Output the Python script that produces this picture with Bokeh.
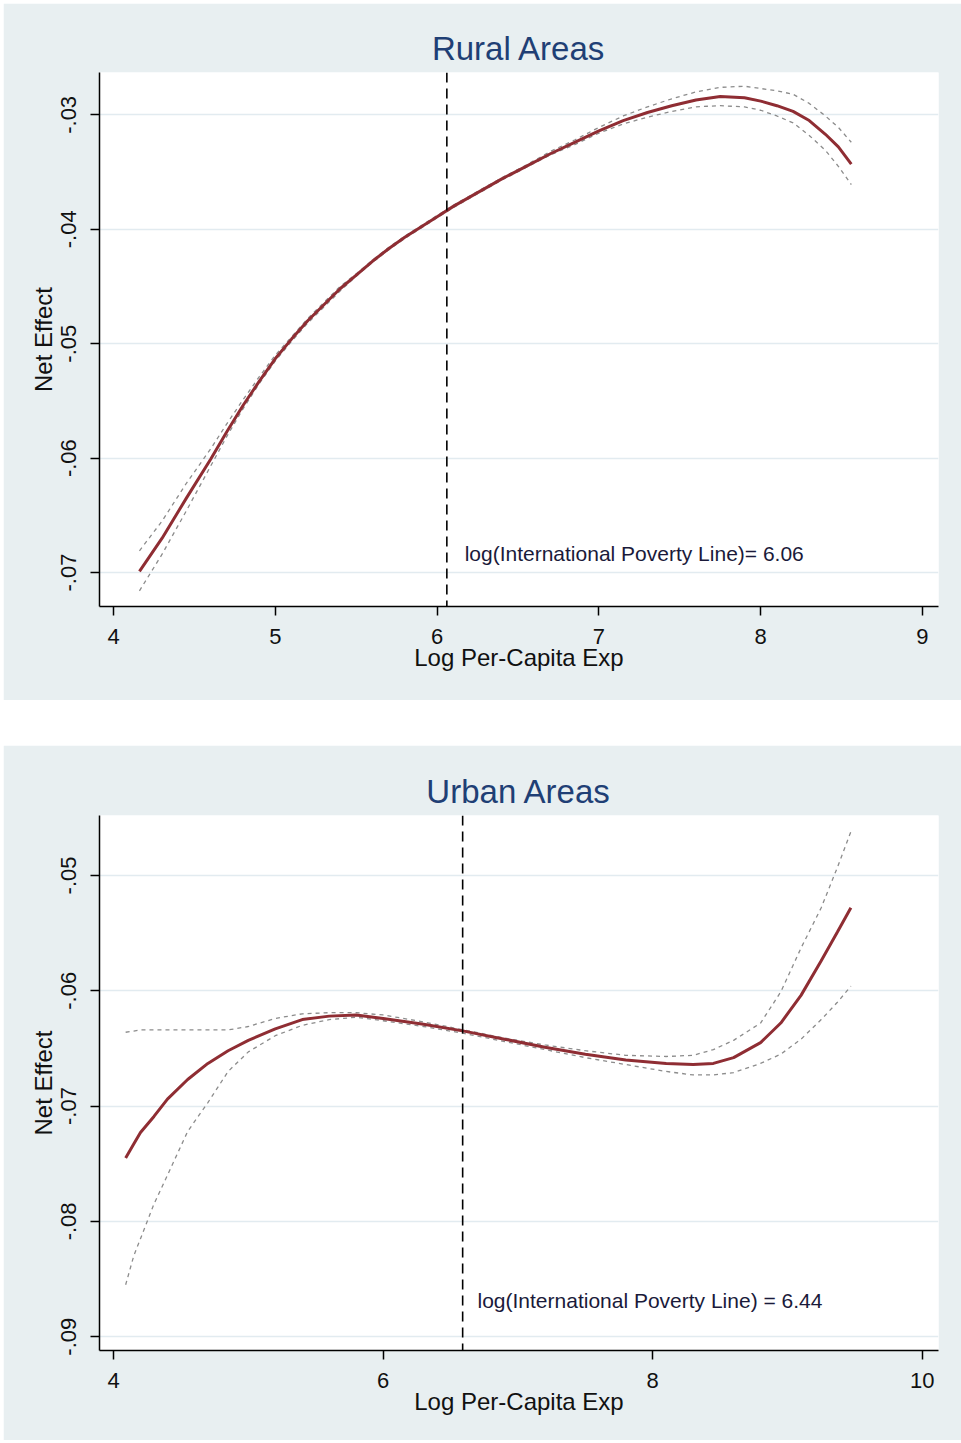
from bokeh.plotting import figure
from bokeh.models import Span, Label, FixedTicker, CustomJSTickFormatter, Spacer
from bokeh.layouts import column, row
from bokeh.embed import file_html
from bokeh.resources import INLINE

# ---------------- Rural data ----------------
rural_x = [4.16, 4.3, 4.45, 4.6, 4.7, 4.8, 4.9, 5.0, 5.1, 5.2, 5.3, 5.4, 5.5, 5.6,
           5.7, 5.8, 5.9, 6.0, 6.1, 6.25, 6.4, 6.55, 6.7, 6.85, 7.0, 7.15, 7.3,
           7.45, 7.6, 7.75, 7.9, 8.0, 8.1, 8.2, 8.3, 8.4, 8.48, 8.56]
rural_effect = [-0.0699, -0.0670, -0.0635, -0.0601, -0.0577, -0.0554, -0.0533, -0.0513,
                -0.0496, -0.0480, -0.0466, -0.0452, -0.0440, -0.0428, -0.0417, -0.0407,
                -0.0398, -0.0389, -0.0380, -0.0368, -0.0356, -0.0345, -0.0334, -0.0324,
                -0.0314, -0.0305, -0.0298, -0.0292, -0.0287, -0.0284, -0.0285, -0.0288,
                -0.0292, -0.0297, -0.0305, -0.0317, -0.0328, -0.0343]
rural_upper = [-0.0681, -0.0655, -0.0622, -0.0592, -0.0570, -0.0549, -0.0529, -0.0510,
               -0.0494, -0.0478, -0.0464, -0.0450, -0.0439, -0.0427, -0.0416, -0.0406,
               -0.0397, -0.0388, -0.0379, -0.0367, -0.0355, -0.0344, -0.0332, -0.0322,
               -0.0311, -0.0301, -0.0293, -0.0286, -0.0280, -0.0276, -0.0275, -0.0277,
               -0.0279, -0.0282, -0.0290, -0.0301, -0.0311, -0.0324]
rural_lower = [-0.0716, -0.0684, -0.0646, -0.0607, -0.0581, -0.0557, -0.0535, -0.0515,
               -0.0498, -0.0482, -0.0468, -0.0454, -0.0441, -0.0429, -0.0418, -0.0408,
               -0.0399, -0.0390, -0.0381, -0.0369, -0.0357, -0.0346, -0.0335, -0.0326,
               -0.0316, -0.0308, -0.0302, -0.0297, -0.0293, -0.0292, -0.0293, -0.0296,
               -0.0301, -0.0307, -0.0318, -0.0331, -0.0345, -0.0361]
rural_poverty_line = 6.06
rural_label = "log(International Poverty Line)= 6.06"
rural_xticks = [4, 5, 6, 7, 8, 9]
rural_yticks = [-0.07, -0.06, -0.05, -0.04, -0.03]

# ---------------- Urban data ----------------
urban_x = [4.09, 4.15, 4.2, 4.3, 4.4, 4.55, 4.7, 4.85, 5.0, 5.2, 5.4, 5.6, 5.8, 6.0,
           6.3, 6.6, 6.9, 7.2, 7.5, 7.8, 8.1, 8.3, 8.45, 8.6, 8.8, 8.95, 9.1, 9.25,
           9.37, 9.47]
urban_effect = [-0.0745, -0.0733, -0.0723, -0.0709, -0.0694, -0.0677, -0.0663, -0.0652,
                -0.0643, -0.0633, -0.0625, -0.0622, -0.0621, -0.0624, -0.0629, -0.0635,
                -0.0642, -0.0649, -0.0655, -0.0660, -0.0663, -0.0664, -0.0663, -0.0658,
                -0.0645, -0.0628, -0.0604, -0.0574, -0.0549, -0.0528]
urban_upper = [-0.0636, -0.0635, -0.0634, -0.0634, -0.0634, -0.0634, -0.0634, -0.0634,
               -0.0631, -0.0624, -0.0620, -0.0619, -0.0619, -0.0621, -0.0627, -0.0634,
               -0.0641, -0.0647, -0.0652, -0.0656, -0.0657, -0.0656, -0.0651, -0.0643,
               -0.0628, -0.0601, -0.0563, -0.0528, -0.0493, -0.0462]
urban_lower = [-0.0855, -0.0830, -0.0815, -0.0785, -0.0760, -0.0722, -0.0697, -0.0670,
               -0.0653, -0.0639, -0.0630, -0.0625, -0.0623, -0.0626, -0.0631, -0.0637,
               -0.0644, -0.0651, -0.0658, -0.0664, -0.0670, -0.0673, -0.0673, -0.0671,
               -0.0663, -0.0655, -0.0642, -0.0625, -0.0610, -0.0596]
urban_poverty_line = 6.59
urban_label = "log(International Poverty Line) = 6.44"
urban_xticks = [4, 6, 8, 10]
urban_yticks = [-0.09, -0.08, -0.07, -0.06, -0.05]

FONT = "Liberation Sans"
PANEL = "#e8eff1"
CURVE = "#8f2d33"
CI = "#8c8c8c"


def panel(title, xs, ys, up, lo, xr, yr, xticks, yticks, vline, lab, lab_x, lab_y,
          height, top, bottom):
    p = figure(width=958, height=height, x_range=xr, y_range=yr,
               output_backend="svg", toolbar_location=None,
               min_border_left=96, min_border_right=23,
               min_border_top=top, min_border_bottom=bottom)
    p.border_fill_color = PANEL
    p.background_fill_color = "white"
    p.outline_line_color = None

    p.title.text = title
    p.title.text_font = FONT
    p.title.text_font_size = "33px"
    p.title.text_font_style = "normal"
    p.title.text_color = "#1f3f75"
    p.title.align = "center"
    p.title.standoff = 12

    p.xgrid.grid_line_color = None
    p.ygrid.grid_line_color = "#e2ebf0"
    p.ygrid.grid_line_width = 1.5

    p.xaxis.ticker = FixedTicker(ticks=xticks)
    p.yaxis.ticker = FixedTicker(ticks=yticks)
    p.yaxis.formatter = CustomJSTickFormatter(
        code="return tick.toFixed(2).replace('0.', '.');")
    for ax in (p.xaxis[0], p.yaxis[0]):
        ax.axis_line_color = "black"
        ax.axis_line_width = 1.5
        ax.major_tick_line_color = "black"
        ax.major_tick_line_width = 1.5
        ax.major_tick_out = 9
        ax.major_tick_in = 0
        ax.minor_tick_line_color = None
        ax.major_label_text_font = FONT
        ax.major_label_text_font_size = "22px"
        ax.major_label_text_color = "#111111"
        ax.axis_label_text_font = FONT
        ax.axis_label_text_font_size = "24px"
        ax.axis_label_text_font_style = "normal"
        ax.axis_label_text_color = "#111111"
    p.xaxis.axis_label = "Log Per-Capita Exp"
    p.xaxis.axis_label_standoff = -3
    p.xaxis.major_label_standoff = 13
    p.yaxis.axis_label = "Net Effect"
    p.yaxis.axis_label_standoff = 2
    p.yaxis.major_label_orientation = "vertical"
    p.yaxis.major_label_standoff = 14

    p.line(xs, up, line_color=CI, line_width=1.3, line_dash="4 4")
    p.line(xs, lo, line_color=CI, line_width=1.3, line_dash="4 4")
    p.line(xs, ys, line_color=CURVE, line_width=3)

    p.add_layout(Span(location=vline, dimension="height", line_color="black",
                      line_width=1.6, line_dash="10 6"))
    p.add_layout(Label(x=lab_x, y=lab_y, text=lab, text_font=FONT,
                       text_font_size="21px", text_color="#1a1a3a",
                       text_baseline="middle"))
    return p


p1 = panel("Rural Areas", rural_x, rural_effect, rural_upper, rural_lower,
           (3.913, 9.099), (-0.07297, -0.0263), rural_xticks, rural_yticks,
           rural_poverty_line, rural_label, 6.17, -0.0683, 697, 69, 94)
p2 = panel("Urban Areas", urban_x, urban_effect, urban_upper, urban_lower,
           (3.896, 10.12), (-0.0912, -0.0448), urban_xticks, urban_yticks,
           urban_poverty_line, urban_label, 6.70, -0.0869, 695, 70, 90)

layout = row(Spacer(width=3),
             column(Spacer(height=3), p1, Spacer(height=45), p2, spacing=0),
             spacing=0)
open("out.html", "w").write(file_html(layout, INLINE))
